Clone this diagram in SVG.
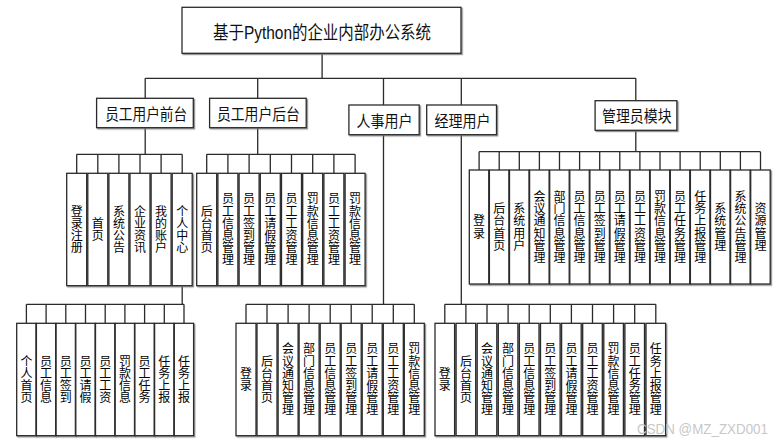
<svg xmlns="http://www.w3.org/2000/svg" width="777" height="443" viewBox="0 0 777 443">
<defs>
<filter id="sh" x="-20%" y="-20%" width="140%" height="140%">
<feDropShadow dx="1.2" dy="1.2" stdDeviation="0.4" flood-color="#777" flood-opacity="0.8"/>
</filter>
<style>
.box{fill:#fff;stroke:#2a2a2a;stroke-width:1.3;filter:url(#sh)}
.ln{fill:none;stroke:#2a2a2a;stroke-width:1.3}
.t{font-family:"Liberation Sans","Noto Sans CJK SC",sans-serif;fill:#111;text-anchor:middle}
.h{font-size:15.5px}
.v{font-family:"Noto Sans CJK SC",sans-serif;font-size:12px;fill:#000;text-anchor:middle}
.wm{font-family:"Liberation Sans",sans-serif;font-size:14px;fill:#c8c8c8}
</style>
</defs>
<rect width="777" height="443" fill="#fff"/>
<g id="connectors">
<path class="ln" d="M322.1 53.3V78.3M145.2 78.3H635.8M145.2 78.3V98.3M257.7 78.3V98.3M383.5 78.3V105M461.3 78.3V105M635.8 78.3V100.7"/>
<path class="ln" d="M145.2 127.7V154.3M76.7 154.3H182.2M76.7 154.3V173.3M97.8 154.3V173.3M118.9 154.3V173.3M140 154.3V173.3M161.1 154.3V173.3M182.2 154.3V173.3"/>
<path class="ln" d="M257.7 127.7V154.3M206.7 154.3H355.1M206.7 154.3V173.3M227.9 154.3V173.3M249.1 154.3V173.3M270.3 154.3V173.3M291.5 154.3V173.3M312.7 154.3V173.3M333.9 154.3V173.3M355.1 154.3V173.3"/>
<path class="ln" d="M635.8 130.3V151.7M479.1 151.7H760.5M479.1 151.7V170M499.2 151.7V170M519.3 151.7V170M539.4 151.7V170M559.5 151.7V170M579.6 151.7V170M599.7 151.7V170M619.8 151.7V170M639.9 151.7V170M660 151.7V170M680.1 151.7V170M700.2 151.7V170M720.3 151.7V170M740.4 151.7V170M760.5 151.7V170"/>
<path class="ln" d="M182.2 285.7V304.3M26.4 304.3H184M26.4 304.3V323.3M46.1 304.3V323.3M65.8 304.3V323.3M85.5 304.3V323.3M105.2 304.3V323.3M124.9 304.3V323.3M144.6 304.3V323.3M164.3 304.3V323.3M184 304.3V323.3"/>
<path class="ln" d="M383.5 134.7V304.3M246 304.3H414.3M246 304.3V323.3M267 304.3V323.3M288.1 304.3V323.3M309.1 304.3V323.3M330.2 304.3V323.3M351.2 304.3V323.3M372.2 304.3V323.3M393.3 304.3V323.3M414.3 304.3V323.3"/>
<path class="ln" d="M461.3 134.7V304.3M444.8 304.3H655.8M444.8 304.3V323.3M465.9 304.3V323.3M487 304.3V323.3M508.1 304.3V323.3M529.2 304.3V323.3M550.3 304.3V323.3M571.4 304.3V323.3M592.5 304.3V323.3M613.6 304.3V323.3M634.7 304.3V323.3M655.8 304.3V323.3"/>
</g>
<g id="root"><rect class="box" x="182" y="7.3" width="279" height="46"/><text class="t" x="322" y="39" font-size="18" textLength="218" lengthAdjust="spacingAndGlyphs">基于Python的企业内部办公系统</text></g>
<g id="n-front"><rect class="box" x="96.6" y="98.3" width="96.7" height="29.4"/><text class="t h" x="146.2" y="119.5" textLength="82" lengthAdjust="spacingAndGlyphs">员工用户前台</text></g>
<g id="n-back"><rect class="box" x="209.6" y="98.3" width="96.6" height="29.4"/><text class="t h" x="258.4" y="119.5" textLength="83" lengthAdjust="spacingAndGlyphs">员工用户后台</text></g>
<g id="n-hr"><rect class="box" x="348.9" y="105" width="70.3" height="29.7"/><text class="t h" x="384.5" y="127" textLength="56" lengthAdjust="spacingAndGlyphs">人事用户</text></g>
<g id="n-mgr"><rect class="box" x="426.7" y="105" width="69.8" height="29.7"/><text class="t h" x="462.6" y="127" textLength="56" lengthAdjust="spacingAndGlyphs">经理用户</text></g>
<g id="n-admin"><rect class="box" x="595.1" y="100.7" width="81.8" height="29.6"/><text class="t h" x="636.8" y="122" textLength="69.5" lengthAdjust="spacingAndGlyphs">管理员模块</text></g>

<g id="a1"><rect class="box" x="66.7" y="173.3" width="20" height="112.4"/><text class="v" x="76.7 76.7 76.7 76.7" y="215.6 227.8 240 252.2">登录注册</text></g>
<g id="a2"><rect class="box" x="87.8" y="173.3" width="20" height="112.4"/><text class="v" x="97.8 97.8" y="227.8 240">首页</text></g>
<g id="a3"><rect class="box" x="108.9" y="173.3" width="20" height="112.4"/><text class="v" x="118.9 118.9 118.9 118.9" y="215.6 227.8 240 252.2">系统公告</text></g>
<g id="a4"><rect class="box" x="130" y="173.3" width="20" height="112.4"/><text class="v" x="140 140 140 140" y="215.6 227.8 240 252.2">企业资讯</text></g>
<g id="a5"><rect class="box" x="151.1" y="173.3" width="20" height="112.4"/><text class="v" x="161.1 161.1 161.1 161.1" y="215.6 227.8 240 252.2">我的账户</text></g>
<g id="a6"><rect class="box" x="172.2" y="173.3" width="20" height="112.4"/><text class="v" x="182.2 182.2 182.2 182.2" y="215.6 227.8 240 252.2">个人中心</text></g>

<g id="b1"><rect class="box" x="196.7" y="173.3" width="20" height="112.4"/><text class="v" x="206.7 206.7 206.7 206.7" y="215.6 227.8 240 252.2">后台首页</text></g>
<g id="b2"><rect class="box" x="217.9" y="173.3" width="20" height="112.4"/><text class="v" x="227.9 227.9 227.9 227.9 227.9 227.9" y="203.4 215.6 227.8 240 252.2 264.4">员工信息管理</text></g>
<g id="b3"><rect class="box" x="239.1" y="173.3" width="20" height="112.4"/><text class="v" x="249.1 249.1 249.1 249.1 249.1 249.1" y="203.4 215.6 227.8 240 252.2 264.4">员工签到管理</text></g>
<g id="b4"><rect class="box" x="260.3" y="173.3" width="20" height="112.4"/><text class="v" x="270.3 270.3 270.3 270.3 270.3 270.3" y="203.4 215.6 227.8 240 252.2 264.4">员工请假管理</text></g>
<g id="b5"><rect class="box" x="281.5" y="173.3" width="20" height="112.4"/><text class="v" x="291.5 291.5 291.5 291.5 291.5 291.5" y="203.4 215.6 227.8 240 252.2 264.4">员工工资管理</text></g>
<g id="b6"><rect class="box" x="302.7" y="173.3" width="20" height="112.4"/><text class="v" x="312.7 312.7 312.7 312.7 312.7 312.7" y="203.4 215.6 227.8 240 252.2 264.4">罚款信息管理</text></g>
<g id="b7"><rect class="box" x="323.9" y="173.3" width="20" height="112.4"/><text class="v" x="333.9 333.9 333.9 333.9 333.9 333.9" y="203.4 215.6 227.8 240 252.2 264.4">员工工资管理</text></g>
<g id="b8"><rect class="box" x="345.1" y="173.3" width="20" height="112.4"/><text class="v" x="355.1 355.1 355.1 355.1 355.1 355.1" y="203.4 215.6 227.8 240 252.2 264.4">罚款信息管理</text></g>

<g id="e1"><rect class="box" x="469.3" y="170" width="19.5" height="114"/><text class="v" x="479.1 479.1" y="225.3 237.5">登录</text></g>
<g id="e2"><rect class="box" x="489.4" y="170" width="19.5" height="114"/><text class="v" x="499.2 499.2 499.2 499.2" y="213.1 225.3 237.5 249.7">后台首页</text></g>
<g id="e3"><rect class="box" x="509.5" y="170" width="19.5" height="114"/><text class="v" x="519.3 519.3 519.3 519.3" y="213.1 225.3 237.5 249.7">系统用户</text></g>
<g id="e4"><rect class="box" x="529.6" y="170" width="19.5" height="114"/><text class="v" x="539.4 539.4 539.4 539.4 539.4 539.4" y="200.9 213.1 225.3 237.5 249.7 261.9">会议通知管理</text></g>
<g id="e5"><rect class="box" x="549.7" y="170" width="19.5" height="114"/><text class="v" x="559.5 559.5 559.5 559.5 559.5 559.5" y="200.9 213.1 225.3 237.5 249.7 261.9">部门信息管理</text></g>
<g id="e6"><rect class="box" x="569.8" y="170" width="19.5" height="114"/><text class="v" x="579.6 579.6 579.6 579.6 579.6 579.6" y="200.9 213.1 225.3 237.5 249.7 261.9">员工信息管理</text></g>
<g id="e7"><rect class="box" x="589.9" y="170" width="19.5" height="114"/><text class="v" x="599.7 599.7 599.7 599.7 599.7 599.7" y="200.9 213.1 225.3 237.5 249.7 261.9">员工签到管理</text></g>
<g id="e8"><rect class="box" x="610" y="170" width="19.5" height="114"/><text class="v" x="619.8 619.8 619.8 619.8 619.8 619.8" y="200.9 213.1 225.3 237.5 249.7 261.9">员工请假管理</text></g>
<g id="e9"><rect class="box" x="630.1" y="170" width="19.5" height="114"/><text class="v" x="639.9 639.9 639.9 639.9 639.9 639.9" y="200.9 213.1 225.3 237.5 249.7 261.9">员工工资管理</text></g>
<g id="e10"><rect class="box" x="650.2" y="170" width="19.5" height="114"/><text class="v" x="660 660 660 660 660 660" y="200.9 213.1 225.3 237.5 249.7 261.9">罚款信息管理</text></g>
<g id="e11"><rect class="box" x="670.3" y="170" width="19.5" height="114"/><text class="v" x="680.1 680.1 680.1 680.1 680.1 680.1" y="200.9 213.1 225.3 237.5 249.7 261.9">员工任务管理</text></g>
<g id="e12"><rect class="box" x="690.4" y="170" width="19.5" height="114"/><text class="v" x="700.2 700.2 700.2 700.2 700.2 700.2" y="200.9 213.1 225.3 237.5 249.7 261.9">任务上报管理</text></g>
<g id="e13"><rect class="box" x="710.5" y="170" width="19.5" height="114"/><text class="v" x="720.3 720.3 720.3 720.3" y="213.1 225.3 237.5 249.7">系统管理</text></g>
<g id="e14"><rect class="box" x="730.6" y="170" width="19.5" height="114"/><text class="v" x="740.4 740.4 740.4 740.4 740.4 740.4" y="200.9 213.1 225.3 237.5 249.7 261.9">系统公告管理</text></g>
<g id="e15"><rect class="box" x="750.7" y="170" width="19.5" height="114"/><text class="v" x="760.5 760.5 760.5 760.5" y="213.1 225.3 237.5 249.7">资源管理</text></g>

<g id="p1"><rect class="box" x="16.7" y="323.3" width="19.3" height="112.4"/><text class="v" x="26.4 26.4 26.4 26.4" y="365.6 377.8 390 402.2">个人首页</text></g>
<g id="p2"><rect class="box" x="36.4" y="323.3" width="19.3" height="112.4"/><text class="v" x="46.1 46.1 46.1 46.1" y="365.6 377.8 390 402.2">员工信息</text></g>
<g id="p3"><rect class="box" x="56.1" y="323.3" width="19.3" height="112.4"/><text class="v" x="65.8 65.8 65.8 65.8" y="365.6 377.8 390 402.2">员工签到</text></g>
<g id="p4"><rect class="box" x="75.8" y="323.3" width="19.3" height="112.4"/><text class="v" x="85.5 85.5 85.5 85.5" y="365.6 377.8 390 402.2">员工请假</text></g>
<g id="p5"><rect class="box" x="95.5" y="323.3" width="19.3" height="112.4"/><text class="v" x="105.2 105.2 105.2 105.2" y="365.6 377.8 390 402.2">员工工资</text></g>
<g id="p6"><rect class="box" x="115.2" y="323.3" width="19.3" height="112.4"/><text class="v" x="124.9 124.9 124.9 124.9" y="365.6 377.8 390 402.2">罚款信息</text></g>
<g id="p7"><rect class="box" x="134.9" y="323.3" width="19.3" height="112.4"/><text class="v" x="144.6 144.6 144.6 144.6" y="365.6 377.8 390 402.2">员工任务</text></g>
<g id="p8"><rect class="box" x="154.6" y="323.3" width="19.3" height="112.4"/><text class="v" x="164.3 164.3 164.3 164.3" y="365.6 377.8 390 402.2">任务上报</text></g>
<g id="p9"><rect class="box" x="174.3" y="323.3" width="19.3" height="112.4"/><text class="v" x="184 184 184 184" y="365.6 377.8 390 402.2">任务上报</text></g>

<g id="c1"><rect class="box" x="236" y="323.3" width="20" height="112.4"/><text class="v" x="246 246" y="377.8 390">登录</text></g>
<g id="c2"><rect class="box" x="257" y="323.3" width="20" height="112.4"/><text class="v" x="267 267 267 267" y="365.6 377.8 390 402.2">后台首页</text></g>
<g id="c3"><rect class="box" x="278.1" y="323.3" width="20" height="112.4"/><text class="v" x="288.1 288.1 288.1 288.1 288.1 288.1" y="353.4 365.6 377.8 390 402.2 414.4">会议通知管理</text></g>
<g id="c4"><rect class="box" x="299.1" y="323.3" width="20" height="112.4"/><text class="v" x="309.1 309.1 309.1 309.1 309.1 309.1" y="353.4 365.6 377.8 390 402.2 414.4">部门信息管理</text></g>
<g id="c5"><rect class="box" x="320.2" y="323.3" width="20" height="112.4"/><text class="v" x="330.2 330.2 330.2 330.2 330.2 330.2" y="353.4 365.6 377.8 390 402.2 414.4">员工信息管理</text></g>
<g id="c6"><rect class="box" x="341.2" y="323.3" width="20" height="112.4"/><text class="v" x="351.2 351.2 351.2 351.2 351.2 351.2" y="353.4 365.6 377.8 390 402.2 414.4">员工签到管理</text></g>
<g id="c7"><rect class="box" x="362.2" y="323.3" width="20" height="112.4"/><text class="v" x="372.2 372.2 372.2 372.2 372.2 372.2" y="353.4 365.6 377.8 390 402.2 414.4">员工请假管理</text></g>
<g id="c8"><rect class="box" x="383.3" y="323.3" width="20" height="112.4"/><text class="v" x="393.3 393.3 393.3 393.3 393.3 393.3" y="353.4 365.6 377.8 390 402.2 414.4">员工工资管理</text></g>
<g id="c9"><rect class="box" x="404.3" y="323.3" width="20" height="112.4"/><text class="v" x="414.3 414.3 414.3 414.3 414.3 414.3" y="353.4 365.6 377.8 390 402.2 414.4">罚款信息管理</text></g>

<g id="d1"><rect class="box" x="435" y="323.3" width="19.6" height="112.4"/><text class="v" x="444.8 444.8" y="377.8 390">登录</text></g>
<g id="d2"><rect class="box" x="456.1" y="323.3" width="19.6" height="112.4"/><text class="v" x="465.9 465.9 465.9 465.9" y="365.6 377.8 390 402.2">后台首页</text></g>
<g id="d3"><rect class="box" x="477.2" y="323.3" width="19.6" height="112.4"/><text class="v" x="487 487 487 487 487 487" y="353.4 365.6 377.8 390 402.2 414.4">会议通知管理</text></g>
<g id="d4"><rect class="box" x="498.3" y="323.3" width="19.6" height="112.4"/><text class="v" x="508.1 508.1 508.1 508.1 508.1 508.1" y="353.4 365.6 377.8 390 402.2 414.4">部门信息管理</text></g>
<g id="d5"><rect class="box" x="519.4" y="323.3" width="19.6" height="112.4"/><text class="v" x="529.2 529.2 529.2 529.2 529.2 529.2" y="353.4 365.6 377.8 390 402.2 414.4">员工信息管理</text></g>
<g id="d6"><rect class="box" x="540.5" y="323.3" width="19.6" height="112.4"/><text class="v" x="550.3 550.3 550.3 550.3 550.3 550.3" y="353.4 365.6 377.8 390 402.2 414.4">员工签到管理</text></g>
<g id="d7"><rect class="box" x="561.6" y="323.3" width="19.6" height="112.4"/><text class="v" x="571.4 571.4 571.4 571.4 571.4 571.4" y="353.4 365.6 377.8 390 402.2 414.4">员工请假管理</text></g>
<g id="d8"><rect class="box" x="582.7" y="323.3" width="19.6" height="112.4"/><text class="v" x="592.5 592.5 592.5 592.5 592.5 592.5" y="353.4 365.6 377.8 390 402.2 414.4">员工工资管理</text></g>
<g id="d9"><rect class="box" x="603.8" y="323.3" width="19.6" height="112.4"/><text class="v" x="613.6 613.6 613.6 613.6 613.6 613.6" y="353.4 365.6 377.8 390 402.2 414.4">罚款信息管理</text></g>
<g id="d10"><rect class="box" x="624.9" y="323.3" width="19.6" height="112.4"/><text class="v" x="634.7 634.7 634.7 634.7 634.7 634.7" y="353.4 365.6 377.8 390 402.2 414.4">员工任务管理</text></g>
<g id="d11"><rect class="box" x="646" y="323.3" width="19.6" height="112.4"/><text class="v" x="655.8 655.8 655.8 655.8 655.8 655.8" y="353.4 365.6 377.8 390 402.2 414.4">任务上报管理</text></g>

<text class="wm" x="637" y="434" textLength="131" lengthAdjust="spacingAndGlyphs">CSDN @MZ_ZXD001</text>
</svg>
